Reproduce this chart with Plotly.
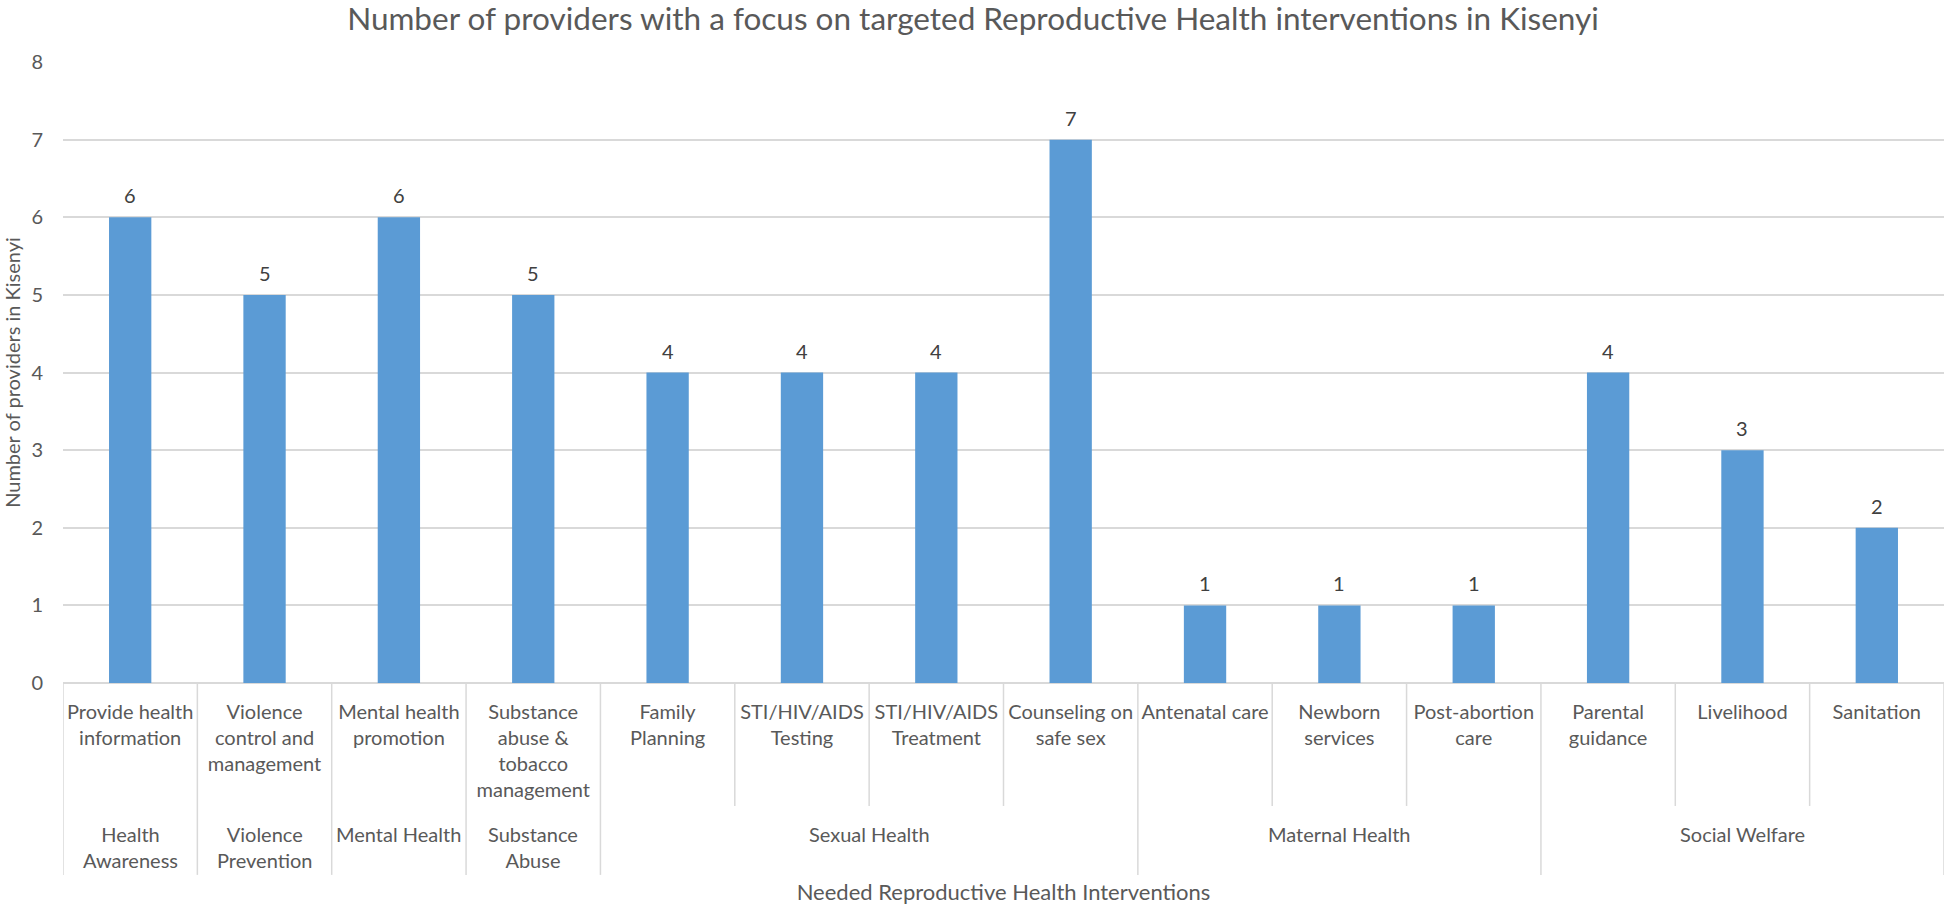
import plotly.graph_objects as go

categories = [
    "Provide health information", "Violence control and management", "Mental health promotion",
    "Substance abuse & tobacco management", "Family Planning", "STI/HIV/AIDS Testing",
    "STI/HIV/AIDS Treatment", "Counseling on safe sex", "Antenatal care", "Newborn services",
    "Post-abortion care", "Parental guidance", "Livelihood", "Sanitation",
]
tick_labels = [
    "Provide health<br>information", "Violence<br>control and<br>management", "Mental health<br>promotion",
    "Substance<br>abuse &amp;<br>tobacco<br>management", "Family<br>Planning", "STI/HIV/AIDS<br>Testing",
    "STI/HIV/AIDS<br>Treatment", "Counseling on<br>safe sex", "Antenatal care", "Newborn<br>services",
    "Post-abortion<br>care", "Parental<br>guidance", "Livelihood", "Sanitation",
]
values = [6, 5, 6, 5, 4, 4, 4, 7, 1, 1, 1, 4, 3, 2]
groups = ["Health<br>Awareness", "Violence<br>Prevention", "Mental Health", "Substance<br>Abuse",
          "Sexual Health", "Maternal Health", "Social Welfare"]
group_sizes = [1, 1, 1, 1, 4, 3, 3]
y_ticks = [0, 1, 2, 3, 4, 5, 6, 7, 8]

FONT = "Lato"
GREY = "#595959"
LINE = "#D9D9D9"

fig = go.Figure()
fig.add_trace(go.Bar(x=categories, y=values, marker=dict(color="#5B9BD5", line=dict(width=0)),
                     hoverinfo="x+y"))

# data labels
for c, v in zip(categories, values):
    fig.add_annotation(x=c, y=v, xref="x", yref="y", text=str(v), showarrow=False,
                       yanchor="middle", yshift=22, font=dict(family=FONT, size=20, color="#404040"))

# dividers and group labels
shapes = []
boundaries = set()
pos = 0
for g, n in zip(groups, group_sizes):
    boundaries.add(pos)
    center = pos + (n - 1) / 2
    fig.add_annotation(x=center, y=-0.221, xref="x", yref="paper", text=g, showarrow=False,
                       yanchor="top", align="center", font=dict(family=FONT, size=20, color=GREY))
    pos += n
boundaries.add(pos)
for b in range(0, len(categories) + 1):
    bottom = -0.309 if b in boundaries else -0.198
    shapes.append(dict(type="line", xref="x", yref="paper", x0=b - 0.5, x1=b - 0.5, y0=0, y1=bottom,
                       line=dict(color=LINE, width=1.5)))
fig.update_layout(shapes=shapes)

fig.update_layout(
    width=1946, height=907,
    margin=dict(l=63, r=2, t=62, b=224),
    paper_bgcolor="white", plot_bgcolor="white",
    bargap=0.685,
    showlegend=False,
    font=dict(family=FONT, color=GREY, size=20),
    title=dict(text="Number of providers with a focus on targeted Reproductive Health interventions in Kisenyi",
               x=0.5, xanchor="center", y=1 - 19 / 907, yanchor="middle",
               font=dict(family=FONT, size=31.5, color=GREY)),
    xaxis=dict(
        tickmode="array", tickvals=categories, ticktext=tick_labels,
        ticks="", ticklabelstandoff=15, tickfont=dict(family=FONT, size=20, color=GREY),
        showline=False, showgrid=False, range=[-0.5, len(categories) - 0.5],
        title=dict(text="Needed Reproductive Health Interventions", standoff=84,
                   font=dict(family=FONT, size=22, color=GREY)),
        automargin=False,
    ),
    yaxis=dict(
        range=[0, 8], tickmode="array", tickvals=y_ticks, showgrid=True, gridcolor=LINE, gridwidth=1.5,
        zeroline=True, zerolinecolor=LINE, zerolinewidth=1.5, showline=False, ticks="",
        tickfont=dict(family=FONT, size=20, color=GREY), ticklabelstandoff=19,
        title=dict(text="Number of providers in Kisenyi", standoff=12,
                   font=dict(family=FONT, size=20, color=GREY)),
        automargin=False,
    ),
)

fig.write_html("out.html", config={"displayModeBar": False},
               post_script="document.body.style.margin='0';")
